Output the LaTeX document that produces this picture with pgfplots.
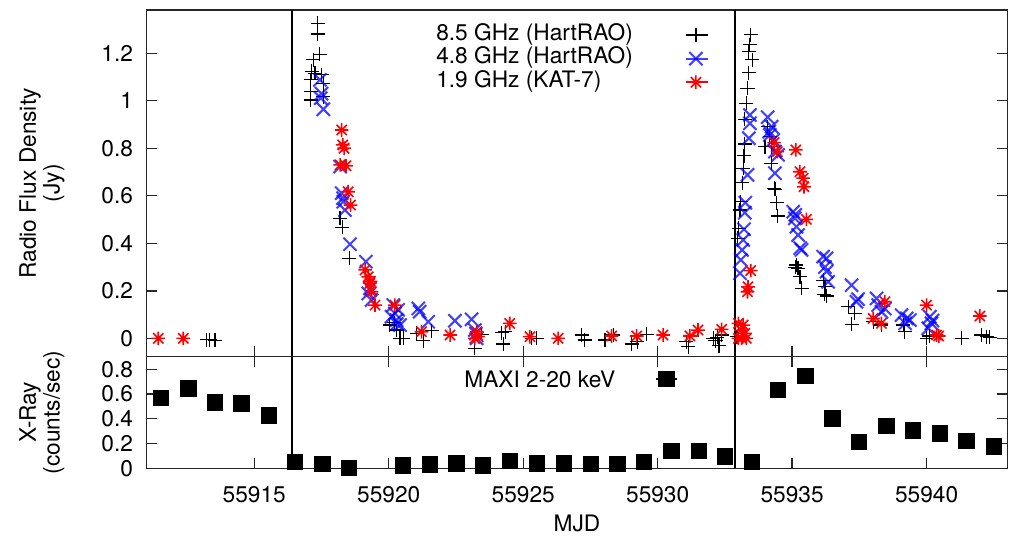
\documentclass[border=0pt]{standalone}
\usepackage{fontspec}
\setmainfont{TeX Gyre Heros}
\usepackage{pgfplots}
\pgfplotsset{compat=1.18}

% gnuplot-like point types
\pgfdeclareplotmark{gpstar}{%
  \pgfpathmoveto{\pgfqpoint{-\pgfplotmarksize}{0pt}}%
  \pgfpathlineto{\pgfqpoint{\pgfplotmarksize}{0pt}}%
  \pgfpathmoveto{\pgfqpoint{0pt}{-\pgfplotmarksize}}%
  \pgfpathlineto{\pgfqpoint{0pt}{\pgfplotmarksize}}%
  \pgfpathmoveto{\pgfqpoint{-0.75\pgfplotmarksize}{-0.75\pgfplotmarksize}}%
  \pgfpathlineto{\pgfqpoint{0.75\pgfplotmarksize}{0.75\pgfplotmarksize}}%
  \pgfpathmoveto{\pgfqpoint{-0.75\pgfplotmarksize}{0.75\pgfplotmarksize}}%
  \pgfpathlineto{\pgfqpoint{0.75\pgfplotmarksize}{-0.75\pgfplotmarksize}}%
  \pgfusepathqstroke}
\pgfdeclareplotmark{gpx}{%
  \pgfpathmoveto{\pgfqpoint{-\pgfplotmarksize}{-\pgfplotmarksize}}%
  \pgfpathlineto{\pgfqpoint{\pgfplotmarksize}{\pgfplotmarksize}}%
  \pgfpathmoveto{\pgfqpoint{-\pgfplotmarksize}{\pgfplotmarksize}}%
  \pgfpathlineto{\pgfqpoint{\pgfplotmarksize}{-\pgfplotmarksize}}%
  \pgfusepathqstroke}

\tikzset{vline/.style={black, line width=0.7pt}}
\pgfplotsset{
  gp/.style={
    scale only axis, width=379.3pt,
    xmin=55911, xmax=55943,
    xtick={55915,55920,55925,55930,55935,55940},
    scaled x ticks=false, scaled y ticks=false,
    tick align=inside, major tick length=4.6pt,
    axis line style={black!85, line width=0.6pt},
    tick style={black!85, line width=0.6pt},
    /pgf/number format/assume math mode=true,
    x tick label style={/pgf/number format/1000 sep={}, yshift=-4.5pt},
    y tick label style={xshift=-2.5pt},
    every axis y label/.style={at={(axis description cs:-0.1218,0.5)}, anchor=center,
      rotate=90, align=center, font=\fontsize{10}{9.2}\selectfont},
    clip=false,
  },
}

% 8.5 GHz HartRAO
\pgfplotstableread{
x y
55913.23 -0.005
55913.35 -0.005
55913.54 -0.008
55917.36 1.326
55917.36 1.281
55917.44 1.196
55917.19 1.172
55917.13 1.123
55917.26 1.116
55917.50 1.109
55917.10 1.088
55917.10 1.038
55917.10 1.003
55917.57 1.074
55917.57 1.017
55918.19 0.505
55918.27 0.467
55918.53 0.337
55920.04 0.056
55920.20 0.065
55920.29 0.035
55920.42 0.000
55920.54 0.000
55921.04 0.021
55921.28 -0.010
55921.60 0.032
55923.20 -0.042
55923.45 0.018
55924.20 0.024
55924.26 -0.024
55924.33 0.028
55925.31 0.000
55925.50 0.000
55927.17 0.014
55927.29 -0.007
55928.04 -0.007
55928.35 0.014
55929.03 -0.024
55929.24 -0.014
55929.59 0.018
55931.07 -0.014
55931.13 -0.035
55932.06 0.000
55932.15 -0.010
55932.22 0.005
55932.28 -0.030
55932.38 0.014
55932.95 0.007
55933.46 1.277
55933.43 1.235
55933.39 1.207
55933.51 1.172
55933.39 1.118
55933.34 1.053
55933.30 0.989
55933.24 0.922
55933.24 0.818
55933.21 0.768
55933.18 0.716
55933.14 0.655
55933.09 0.575
55933.06 0.540
55933.02 0.463
55932.97 0.421
55934.09 0.891
55934.17 0.849
55933.99 0.807
55934.24 0.807
55934.23 0.737
55934.36 0.627
55934.33 0.632
55934.42 0.571
55934.46 0.515
55935.12 0.300
55935.16 0.309
55935.22 0.295
55935.29 0.259
55935.35 0.211
55936.15 0.245
55936.22 0.217
55936.20 0.185
55936.28 0.178
55937.08 0.133
55937.33 0.105
55937.21 0.060
55938.01 0.070
55938.32 0.056
55939.13 0.056
55939.19 0.028
55940.00 0.000
55940.10 0.010
55941.30 0.000
55942.04 0.014
55942.23 0.007
55942.35 0.005
}\xband

% 4.8 GHz HartRAO
\pgfplotstableread{
x y
55917.44 1.088
55917.50 1.030
55917.47 1.011
55917.57 0.964
55918.19 0.723
55918.25 0.611
55918.30 0.590
55918.31 0.575
55918.37 0.540
55918.56 0.396
55919.15 0.323
55919.30 0.210
55919.24 0.189
55919.36 0.161
55920.17 0.140
55920.35 0.120
55920.23 0.105
55920.10 0.091
55920.29 0.077
55920.30 0.060
55920.42 0.056
55921.10 0.126
55921.15 0.112
55921.47 0.070
55922.46 0.074
55923.08 0.080
55923.20 0.035
55923.24 0.020
55923.27 0.000
55933.43 0.940
55933.43 0.905
55933.39 0.842
55933.34 0.688
55933.26 0.571
55933.24 0.529
55933.21 0.459
55933.18 0.414
55933.14 0.372
55933.09 0.330
55933.06 0.274
55934.09 0.931
55934.15 0.870
55934.24 0.891
55934.17 0.856
55934.30 0.835
55934.36 0.786
55934.48 0.772
55934.36 0.695
55935.04 0.533
55935.12 0.520
55935.10 0.505
55935.16 0.470
55935.22 0.435
55935.30 0.380
55935.35 0.372
55936.15 0.344
55936.28 0.337
55936.22 0.300
55936.28 0.281
55936.34 0.238
55937.21 0.224
55937.45 0.165
55937.39 0.154
55938.14 0.168
55938.20 0.140
55938.45 0.125
55938.32 0.112
55939.07 0.098
55939.26 0.084
55939.38 0.077
55939.20 0.063
55940.12 0.091
55940.22 0.075
55940.18 0.063
55940.06 0.042
}\cband

% 1.9 GHz KAT-7
\pgfplotstableread{
x y
55911.43 0.000
55912.36 0.000
55918.25 0.877
55918.29 0.814
55918.34 0.800
55918.19 0.730
55918.41 0.726
55918.49 0.617
55918.58 0.561
55919.12 0.288
55919.24 0.259
55919.32 0.240
55919.30 0.232
55919.36 0.196
55919.49 0.140
55920.23 0.140
55921.22 0.028
55922.28 0.014
55923.27 0.028
55923.33 0.007
55923.20 0.000
55924.50 0.063
55925.25 0.007
55926.30 0.000
55928.29 0.010
55929.22 0.010
55930.20 0.014
55931.20 0.010
55931.50 0.035
55932.38 0.038
55933.00 0.063
55933.00 0.000
55933.10 0.035
55933.12 0.000
55933.18 0.056
55933.24 0.021
55933.30 0.000
55933.34 0.196
55933.36 0.217
55933.46 0.285
55934.33 0.824
55934.45 0.786
55935.14 0.793
55935.29 0.701
55935.41 0.674
55935.44 0.638
55935.53 0.501
55938.01 0.084
55938.32 0.063
55938.45 0.154
55940.00 0.140
55940.37 0.014
55940.45 0.010
55941.98 0.094
}\lband

% MAXI 2-20 keV
\pgfplotstableread{
x y ex ey
55911.52 0.566 0 0
55912.55 0.646 0 0
55913.54 0.533 0 0
55914.53 0.525 0 0
55915.55 0.428 0 0
55916.51 0.053 0 0
55917.53 0.035 0 0
55918.52 0.002 0 0
55920.52 0.024 0 0
55921.53 0.032 0 0
55922.52 0.040 0 0
55923.51 0.024 0 0
55924.51 0.059 0 0
55925.52 0.040 0 0
55926.51 0.040 0 0
55927.51 0.035 0 0
55928.50 0.035 0 0
55929.50 0.053 0 0
55930.33 0.722 0.38 0
55930.52 0.140 0 0
55931.53 0.140 0 0
55932.50 0.094 0 0.054
55933.51 0.053 0 0
55934.48 0.633 0 0
55935.50 0.748 0 0
55936.50 0.404 0 0.045
55937.49 0.213 0 0
55938.51 0.342 0 0
55939.50 0.307 0 0
55940.49 0.280 0 0
55941.48 0.223 0 0
55942.50 0.178 0 0
}\maxi

\begin{document}
\begin{tikzpicture}
\useasboundingbox (-64.66pt,-30.7pt) rectangle (385.34pt,206.4pt);

% radio panel
\begin{axis}[gp, at={(0pt,49.2pt)}, anchor=south west, height=152.8pt,
  ymin=-0.077, ymax=1.382,
  ytick={0,0.2,0.4,0.6,0.8,1,1.2},
  xtick pos=left, ytick pos=both, xticklabels={},
  ylabel={Radio Flux Density\\(Jy)},
  legend plot pos=right,
  legend style={at={(rel axis cs:0.336,0.963)}, anchor=north west, draw=none, fill=none,
    inner sep=0pt, row sep=0pt, legend cell align=left,
    nodes={inner sep=0pt, text height=7.4pt, text depth=3pt}},
  legend image code/.code={%
    \path[draw=none] (0pt,0pt) (34pt,0pt);
    \draw[#1] (23.4pt,0pt) -- (33pt,0pt);
    \draw[#1] plot coordinates {(27.8pt,0pt)};},
]
\addplot[only marks, mark=+, mark size=3.1pt, black, line width=0.5pt] table {\xband};
\addlegendentry{8.5 GHz (HartRAO)}
\addplot[only marks, mark=gpx, mark size=2.9pt, blue, line width=0.9pt, opacity=0.75] table {\cband};
\addlegendentry{4.8 GHz (HartRAO)}
\addplot[only marks, mark=gpstar, mark size=3pt, red, line width=0.7pt] table {\lband};
\addlegendentry{1.9 GHz (KAT-7)}
\draw[vline] ({axis cs:55916.41,0}|-{rel axis cs:0,0}) -- ({axis cs:55916.41,0}|-{rel axis cs:0,1});
\draw[vline] ({axis cs:55932.88,0}|-{rel axis cs:0,0}) -- ({axis cs:55932.88,0}|-{rel axis cs:0,1});
\end{axis}

% X-ray panel
\begin{axis}[gp, at={(0pt,0pt)}, anchor=south west, height=49.2pt,
  ymin=0, ymax=0.902,
  ytick={0,0.2,0.4,0.6,0.8},
  xtick pos=both, ytick pos=both,
  ylabel={X-Ray\\(counts/sec)},
  xlabel={MJD},
  every axis x label/.style={at={(axis description cs:0.5,0)}, anchor=center, yshift=-24.1pt},
]
\addplot[only marks, mark=square*, mark size=3.4pt, black,
  error bars/.cd, x dir=both, x explicit, y dir=both, y explicit,
  error mark=none, error bar style={line width=0.7pt, black}]
  table[x=x, y=y, x error=ex, y error=ey] {\maxi};
\node at (axis cs:55925.62,0.722) {MAXI 2-20 keV};
\draw[vline] ({axis cs:55916.41,0}|-{rel axis cs:0,0}) -- ({axis cs:55916.41,0}|-{rel axis cs:0,1});
\draw[vline] ({axis cs:55932.88,0}|-{rel axis cs:0,0}) -- ({axis cs:55932.88,0}|-{rel axis cs:0,1});
\end{axis}
\end{tikzpicture}
\end{document}
